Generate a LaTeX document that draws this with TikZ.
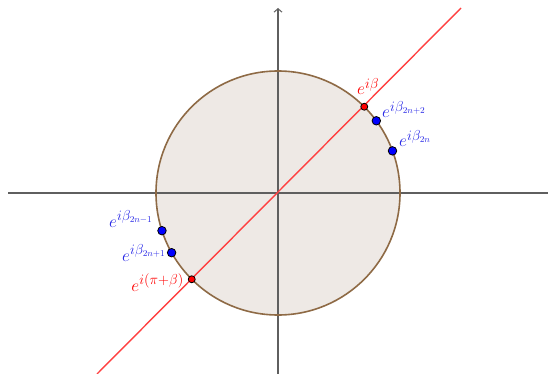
\documentclass[tikz,border=0pt]{standalone}
\usetikzlibrary{arrows.meta,calc}
\definecolor{axisgray}{HTML}{5F5F5F}
\definecolor{circbrown}{HTML}{8E6A45}
\definecolor{circfill}{HTML}{EEE9E5}
\definecolor{linered}{HTML}{FF4040}
\definecolor{ptblue}{HTML}{0000FF}
\definecolor{lblblue}{HTML}{2626E6}
\definecolor{ptred}{HTML}{FF0000}
\begin{document}
\begin{tikzpicture}[x=1pt,y=-1pt,
  axisline/.style={draw=axisgray,line width=1.1pt},
  redline/.style={draw=linered,line width=1.4pt},
  bluept/.style={circle,fill=ptblue,draw=black,line width=0.8pt,inner sep=0pt,minimum size=8.5pt},
  redpt/.style={circle,fill=ptred,draw=black,line width=0.8pt,inner sep=0pt,minimum size=7pt},
  bluelbl/.style={text=lblblue,inner sep=0pt,font=\fontsize{19}{23}\selectfont},
  redlbl/.style={text=ptred,inner sep=0pt,font=\fontsize{19}{23}\selectfont}]
\useasboundingbox (0,0) rectangle (548,374);
\coordinate (O) at (278,193);
\coordinate (xl) at (8,193);
\coordinate (xr) at (548,193);
\coordinate (yb) at (278,374);
\coordinate (yt) at (278,8);
\coordinate (rl) at (97,374);
\coordinate (ru) at (461,8);
\fill[circfill] (O) circle[radius=122];
\draw[axisline] (xl) -- (xr);
\draw[axisline,-{Straight Barb[length=3.5pt,width=8pt,line width=1pt]}] (yb) -- (yt);
\draw[circbrown,line width=1.6pt] (O) circle[radius=122];
\draw[redline] (rl) -- (ru);
\node[redpt] (pb) at ($(O)+(-45:122)$) {};
\node[redpt] (ppb) at ($(O)+(-225:122)$) {};
\node[bluept] (b2n2) at ($(O)+(-36.3:122)$) {};
\node[bluept] (b2n) at ($(O)+(-20.2:122)$) {};
\node[bluept] (b2nm1) at ($(O)+(-198:122)$) {};
\node[bluept] (b2np1) at ($(O)+(-209.3:122)$) {};
\node[redlbl,anchor=base west] (lb) at (357,95) {$e^{i\beta}$};
\node[bluelbl,anchor=base west] (l2n2) at (382,118) {$e^{i\beta_{2n+2}}$};
\node[bluelbl,anchor=base west] (l2n) at (399,147) {$e^{i\beta_{2n}}$};
\node[bluelbl,anchor=base east] (l2nm1) at (153,227) {$e^{i\beta_{2n-1}}$};
\node[bluelbl,anchor=base east] (l2np1) at (166,261) {$e^{i\beta_{2n+1}}$};
\node[redlbl,anchor=base east] (lpb) at (184,291) {$e^{i(\pi+\beta)}$};
\end{tikzpicture}
\end{document}
